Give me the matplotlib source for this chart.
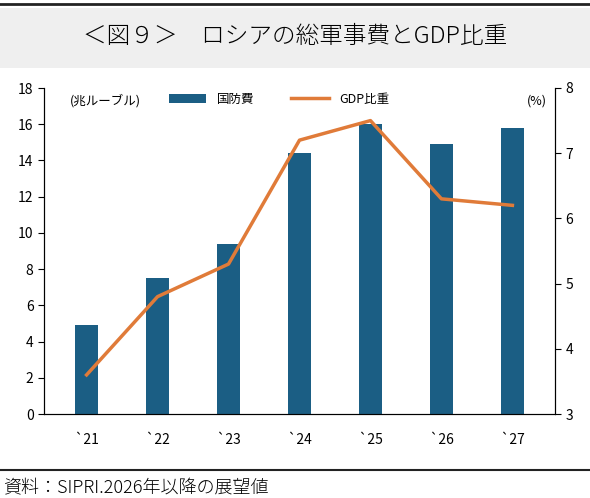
import matplotlib
matplotlib.use("Agg")
import matplotlib.pyplot as plt
from matplotlib.patches import Rectangle
from matplotlib.lines import Line2D

plt.rcParams['font.family'] = ['Noto Sans CJK JP', 'DejaVu Sans']

years = ["`21", "`22", "`23", "`24", "`25", "`26", "`27"]
defense = [4.9, 7.5, 9.4, 14.4, 16.0, 14.9, 15.8]
gdp_share = [3.6, 4.8, 5.3, 7.2, 7.5, 6.3, 6.2]

bar_c = "#1b5e84"
line_c = "#e07b39"

fig = plt.figure(figsize=(5.9, 4.98), dpi=100)
fig.patches.append(Rectangle((0, 1 - 68/498), 1, 60/498, transform=fig.transFigure,
                             facecolor="#efefef", edgecolor="none"))
fig.add_artist(Line2D([0, 1], [1 - 4/498, 1 - 4/498], color="#222222", lw=2, transform=fig.transFigure))
fig.text(0.5, 1 - 36/498, "＜図９＞　ロシアの総軍事費とGDP比重", ha="center", va="center",
         fontsize=17, fontweight="light")
fig.add_artist(Line2D([0, 1], [1 - 470/498, 1 - 470/498], color="#222222", lw=1.5, transform=fig.transFigure))
fig.text(0.005, 1 - 488/498, "資料：SIPRI.2026年以降の展望値", ha="left", va="center",
         fontsize=13, fontweight="light")

ax = fig.add_axes([44/590, 1 - 414/498, 511/590, 326/498])
x = range(len(years))
ax.bar(x, defense, width=0.32, color=bar_c, label="国防費", zorder=2)
ax.set_ylim(0, 18)
ax.set_yticks(range(0, 19, 2))
ax.set_xlim(-0.6, 6.6)
ax.set_xticks(list(x))
ax.set_xticklabels(years, fontsize=10)
ax.tick_params(axis='x', length=0, pad=14)
ax.tick_params(axis='y', labelsize=10, direction='out', length=4)
ax.spines['top'].set_visible(False)
ax.spines['bottom'].set_color('#333333')

ax2 = ax.twinx()
ax2.plot(x, gdp_share, color=line_c, lw=2.5, label="GDP比重", zorder=3)
ax2.set_ylim(3, 8)
ax2.set_yticks(range(3, 9))
ax2.tick_params(axis='y', labelsize=10, direction='out', length=4)
ax2.spines['top'].set_visible(False)

ax.text(0.05, 0.96, "(兆ルーブル)", transform=ax.transAxes, fontsize=9, va="center")
ax2.text(0.985, 0.96, "(%)", transform=ax.transAxes, fontsize=9, va="center", ha="right")

h1, l1 = ax.get_legend_handles_labels()
h2, l2 = ax2.get_legend_handles_labels()
ax.legend(h1 + h2, l1 + l2, loc="upper center", bbox_to_anchor=(0.46, 1.02), ncol=2,
          frameon=False, fontsize=9, handlelength=3, columnspacing=3)

fig.savefig("out.png", dpi=100)
